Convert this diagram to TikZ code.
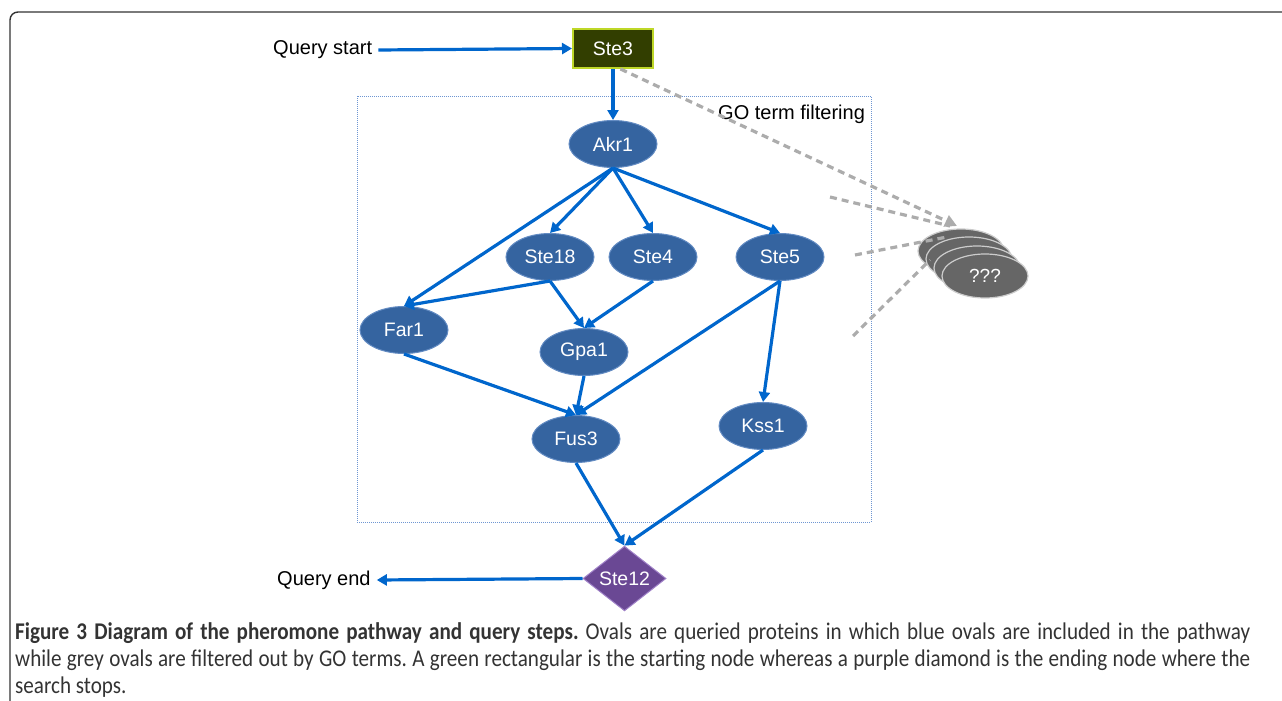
\documentclass[tikz,border=0pt]{standalone}
\usepackage{fontspec}
\setmainfont{Liberation Sans}
\newfontfamily\capfont[FakeStretch=0.88]{Carlito}
\usetikzlibrary{shapes.geometric,arrows.meta}

\definecolor{pathblue}{RGB}{0,102,204}
\definecolor{ovalblue}{RGB}{53,100,160}
\definecolor{ovalrim}{RGB}{100,140,195}
\definecolor{startfill}{RGB}{50,62,0}
\definecolor{startrim}{RGB}{190,215,40}
\definecolor{endfill}{RGB}{106,72,148}
\definecolor{endrim}{RGB}{160,130,200}
\definecolor{filtgrey}{RGB}{102,102,102}
\definecolor{dashgrey}{RGB}{172,172,172}
\definecolor{boxblue}{RGB}{110,150,210}

\begin{document}
\frenchspacing
\begin{tikzpicture}[x=1pt,y=-1pt,
  oval/.style={ellipse, fill=ovalblue, draw=ovalrim, line width=1pt,
    minimum width=88pt, minimum height=47pt, inner sep=0pt, text=white,
    font=\fontsize{19.5}{22}\selectfont},
  greyoval/.style={ellipse, fill=filtgrey, draw=black!20, line width=1.2pt,
    minimum width=86pt, minimum height=44pt, inner sep=0pt, text=white,
    font=\fontsize{19}{22}\selectfont},
  plain/.style={font=\fontsize{20}{24}\selectfont, inner sep=6pt},
  link/.style={draw=pathblue, line width=3.2pt, -{Triangle[length=10pt,width=11pt]}},
  filt/.style={draw=dashgrey, line width=3.2pt, dash pattern=on 7pt off 5pt},
  capline/.style={anchor=base west, inner sep=0pt, text=black!80,
    font=\capfont\fontsize{24}{27}\selectfont}]
  \useasboundingbox (0,0) rectangle (1282,701);

  % Draw the frame
  \draw[black!80, line width=1.4pt, rounded corners=8pt] (10,702) -- (10,12) -- (1284,12);

  % Draw the filter box
  \draw[boxblue, line width=1pt, densely dotted] (357,96) rectangle (871,522);
  \node[font=\fontsize{20}{24}\selectfont, anchor=west, inner sep=0pt] (goterm) at (718,114) {GO term filtering};

  % Start and end nodes
  \node[plain, anchor=west] (qstart) at (267,50) {Query start};
  \node[rectangle, fill=startfill, draw=startrim, line width=2pt, minimum width=80pt,
    minimum height=39pt, inner sep=0pt, text=white, font=\fontsize{19.5}{22}\selectfont]
    (ste3) at (613,48.5) {Ste3};
  \node[diamond, fill=endfill, draw=endrim, line width=1pt, minimum width=83pt,
    minimum height=53pt, inner sep=0pt, text=white, font=\fontsize{19.5}{22}\selectfont]
    (ste12) at (624.5,578.5) {Ste12};
  \node[plain, anchor=west] (qend) at (271,580) {Query end};

  % Pathway proteins
  \node[oval] (akr1) at (613,144) {Akr1};
  \node[oval] (ste18) at (550,257) {Ste18};
  \node[oval] (ste4) at (653,257) {Ste4};
  \node[oval] (ste5) at (780,257) {Ste5};
  \node[oval] (far1) at (404,330) {Far1};
  \node[oval] (gpa1) at (584,352) {Gpa1};
  \node[oval] (fus3) at (576,439) {Fus3};
  \node[oval] (kss1) at (763,426) {Kss1};

  % Filtered proteins
  \node[greyoval] (filt1) at (961,251) {};
  \node[greyoval] (filt2) at (969,259) {};
  \node[greyoval] (filt3) at (977,268) {};
  \node[greyoval] (filt4) at (985,276) {???};

  % Grey dashed lines to the filtered proteins
  \coordinate (gtip) at (957,226);
  \coordinate (g1s) at (830,197);
  \coordinate (g1e) at (950,226);
  \coordinate (g2s) at (855,255);
  \coordinate (g2e) at (947,237);
  \coordinate (g3s) at (853,336);
  \coordinate (g3e) at (930,260);
  \draw[filt] (g1s) -- (g1e);
  \draw[filt] (g2s) -- (g2e);
  \draw[filt] (g3s) -- (g3e);
  \draw[filt, -{Triangle[length=12pt,width=12pt]}] (ste3.-70) -- (gtip);

  % Blue connectors
  \draw[link] (qstart.east) -- (ste3.west);
  \draw[link] (ste3.south) -- (akr1.north);
  \draw[link] (akr1.south) -- (far1.north);
  \draw[link] (akr1.south) -- (ste18.north);
  \draw[link] (akr1.south) -- (ste4.north);
  \draw[link] (akr1.south) -- (ste5.north);
  \draw[link] (ste18.south) -- (far1.north);
  \draw[link] (ste18.south) -- (gpa1.north);
  \draw[link] (ste4.south) -- (gpa1.north);
  \draw[link] (ste5.south) -- (fus3.north);
  \draw[link] (ste5.south) -- (kss1.north);
  \draw[link] (far1.south) -- (fus3.north);
  \draw[link] (gpa1.south) -- (fus3.north);
  \draw[link] (fus3.south) -- (ste12.north);
  \draw[link] (kss1.south) -- (ste12.north);
  \draw[link] (ste12.west) -- (qend.east);

  % Caption
  \node[capline] (cap1) at (15,639) {\makebox[1235pt][s]{\textbf{Figure 3 Diagram of the pheromone pathway and query steps.} Ovals are queried proteins in which blue ovals are included in the pathway}};
  \node[capline] (cap2) at (15,666) {\makebox[1235pt][s]{while grey ovals are filtered out by GO terms. A green rectangular is the starting node whereas a purple diamond is the ending node where the}};
  \node[capline] (cap3) at (15,693) {search stops.};
\end{tikzpicture}
\end{document}
